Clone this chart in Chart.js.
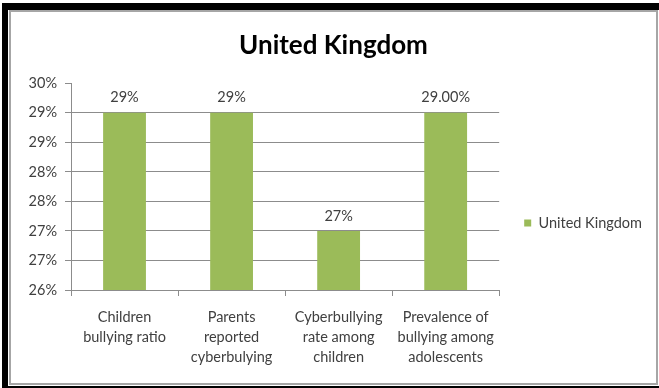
<!DOCTYPE html>
<html>
<head>
<meta charset="utf-8">
<script src="https://cdn.jsdelivr.net/npm/chart.js@4.4.0/dist/chart.umd.min.js"></script>
<style>
  html, body { margin: 0; padding: 0; background: #fff; width: 659px; height: 388px; overflow: hidden; }
  .edge { position: absolute; background: #000; }
  #box { position: absolute; left: 9px; top: 10px; width: 645px; height: 371px; border: 2px solid #a6a6a6; }
  #chart { position: absolute; left: 11px; top: 12px; }
</style>
</head>
<body>
<div class="edge" style="left:2px;top:3px;width:6px;height:385px"></div>
<div class="edge" style="left:2px;top:3px;width:657px;height:7px"></div>
<div class="edge" style="left:2px;top:386px;width:657px;height:2px"></div>
<div id="box"></div>
<canvas id="chart" width="645" height="371"></canvas>
<script>
// chart data
const categories = [
  ['Children', 'bullying ratio'],
  ['Parents', 'reported', 'cyberbulying'],
  ['Cyberbullying', 'rate among', 'children'],
  ['Prevalence of', 'bullying among', 'adolescents']
];
const seriesName = 'United Kingdom';
const ukValues = [0.29, 0.29, 0.27, 0.29];
const valueLabels = ['29%', '29%', '27%', '29.00%'];
const yTickLabels = ['26%', '27%', '27%', '28%', '28%', '29%', '29%', '30%'];
const yMin = 0.26;
const yMax = 0.295;
const yStep = 0.005;

const FONT = 'Lato';
const FS = 14.5;
const GRID = '#8c8c8c';
const TEXT = '#404040';

// value labels above the bars
const barLabels = {
  id: 'barLabels',
  afterDatasetsDraw(chart) {
    const ctx = chart.ctx;
    const meta = chart.getDatasetMeta(0);
    ctx.save();
    ctx.font = FS + 'px ' + FONT;
    ctx.fillStyle = TEXT;
    ctx.textAlign = 'center';
    ctx.textBaseline = 'middle';
    meta.data.forEach((bar, i) => {
      ctx.fillText(valueLabels[i], bar.x, bar.y - 15);
    });
    ctx.restore();
  }
};

new Chart(document.getElementById('chart'), {
  type: 'bar',
  data: {
    labels: categories,
    datasets: [{
      label: seriesName,
      data: ukValues,
      backgroundColor: '#9bbb59',
      borderWidth: 0,
      barPercentage: 0.4,
      categoryPercentage: 1
    }]
  },
  options: {
    responsive: false,
    animation: false,
    events: [],
    layout: { padding: { left: 4, right: 4, top: 0, bottom: 5 } },
    scales: {
      x: {
        grid: { drawOnChartArea: false, color: GRID, tickLength: 6, offset: true },
        border: { color: GRID },
        ticks: { color: TEXT, font: { family: FONT, size: FS, lineHeight: '20px' }, padding: 11, maxRotation: 0, autoSkip: false }
      },
      y: {
        min: yMin,
        max: yMax,
        afterFit: s => { s.width = 56; },
        grid: {
          color: c => (c.tick && c.tick.value >= yMax - 1e-9) ? 'rgba(0,0,0,0)' : GRID,
          tickColor: GRID,
          tickLength: 6
        },
        border: { color: GRID },
        ticks: {
          stepSize: yStep,
          color: TEXT,
          padding: 8,
          font: { family: FONT, size: FS },
          callback: (v, i) => yTickLabels[i]
        }
      }
    },
    plugins: {
      title: {
        display: true,
        text: 'United Kingdom',
        color: '#000',
        font: { family: FONT, size: 26, weight: 'bold', lineHeight: 1.2 },
        padding: { top: 18, bottom: 22 }
      },
      legend: {
        position: 'right',
        title: { display: true, text: '', font: { size: 1 }, padding: { top: 55, bottom: 0 } },
        labels: {
          boxWidth: 7,
          boxHeight: 7,
          padding: 25,
          color: TEXT,
          font: { family: FONT, size: FS }
        }
      },
      tooltip: { enabled: false }
    }
  },
  plugins: [barLabels]
});
</script>
</body>
</html>
